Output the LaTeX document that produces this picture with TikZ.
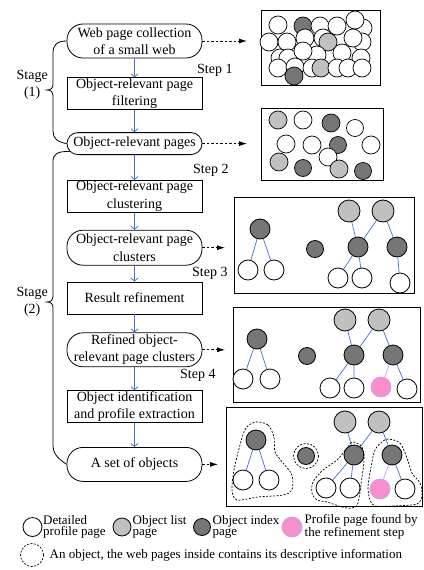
\documentclass[tikz,border=0pt]{standalone}
\usepackage{fontspec}
\setmainfont{Liberation Serif}
\definecolor{flowblue}{RGB}{68,114,196}
\definecolor{listgray}{RGB}{192,192,192}
\definecolor{indexgray}{RGB}{118,118,118}
\definecolor{foundpink}{RGB}{247,143,203}
\definecolor{foundline}{RGB}{200,160,240}
\usetikzlibrary{arrows.meta,positioning,calc}

\begin{document}
\begin{tikzpicture}[
  x=1pt, y=-1pt,
  font=\fontsize{14}{17.5}\selectfont,
  stepbox/.style={rectangle, draw, line width=0.8pt, minimum width=135pt, minimum height=32pt, align=center, inner xsep=1pt, inner ysep=0.5pt},
  data/.style={rectangle, draw, rounded corners=16pt, line width=0.8pt, minimum width=135pt, minimum height=34pt, align=center, inner xsep=1pt, inner ysep=0.5pt},
  flow/.style={-{Straight Barb[length=3pt,width=7pt]}, flowblue, line width=0.8pt},
  dasharrow/.style={-{Latex[length=8pt,width=5pt]}, dash pattern=on 2.5pt off 2pt, line width=0.8pt},
  scene/.style={rectangle, draw, line width=0.8pt, anchor=north west, inner sep=0pt},
  steplabel/.style={anchor=west, inner sep=0pt},
  stagelabel/.style={anchor=east, align=center, inner sep=0pt, font=\fontsize{14}{16.5}\selectfont},
  legend/.style={anchor=west, align=left, inner sep=0.5pt, font=\fontsize{13}{11.5}\selectfont},
  dw/.style={draw, fill=white, line width=0.7pt},
  dl/.style={draw, fill=listgray, line width=0.7pt},
  di/.style={draw, fill=indexgray, line width=0.7pt},
  det/.style={circle, draw, line width=0.8pt, fill=white, minimum size=20pt, inner sep=0pt},
  lst/.style={det, fill=listgray, minimum size=22pt},
  idx/.style={det, fill=indexgray},
  fnd/.style={det, draw=foundline, fill=foundpink},
  link/.style={flowblue, line width=0.7pt},
  plink/.style={foundline, line width=0.7pt},
  objline/.style={dash pattern=on 2pt off 1.5pt, line width=0.7pt},
]
\useasboundingbox (0,0) rectangle (423,570);

% Process column
\node[data] (webcol) at (134.5,41) {Web page collection\\of a small web};
\node[stepbox, below=19pt of webcol] (filter) {Object-relevant page\\filtering};
\node[data, minimum height=22pt, rounded corners=11pt, below=22pt of filter] (pages) {Object-relevant pages};
\node[stepbox, below=25pt of pages] (cluster) {Object-relevant page\\clustering};
\node[data, minimum height=35pt, below=17pt of cluster] (clusters) {Object-relevant page\\clusters};
\node[stepbox, below=16pt of clusters] (refine) {Result refinement};
\node[data, below=18pt of refine] (refined) {Refined object-\\relevant page clusters};
\node[stepbox, below=23pt of refined] (identify) {Object identification\\and profile extraction};
\node[data, below=24pt of identify] (objects) {A set of objects};

\draw[flow] (webcol) -- (filter);
\draw[flow] (filter) -- (pages);
\draw[flow] (pages) -- (cluster);
\draw[flow] (cluster) -- (clusters);
\draw[flow] (clusters) -- (refine);
\draw[flow] (refine) -- (refined);
\draw[flow] (refined) -- (identify);
\draw[flow] (identify) -- (objects);

% Step labels
\node[steplabel] (step1) at (197,70) {Step 1};
\node[steplabel] (step2) at (193,170) {Step 2};
\node[steplabel] (step3) at (192,273) {Step 3};
\node[steplabel] (step4) at (180,375) {Step 4};

% Stage braces
\draw[line width=0.8pt] (webcol.west) .. controls (57,41) and (53,45) .. (53,53) -- (53,84)
  .. controls (53,88) and (51,90) .. (47,90) .. controls (51,90) and (53,92) .. (53,96)
  -- (53,131) .. controls (53,138) and (57,142) .. (pages.west);
\node[stagelabel] (stage1) at (48,85) {Stage\\(1)};
\draw[line width=0.8pt] ($(pages.west)+(3,8)$) .. controls (58,151) and (53,154) .. (53,161) -- (53,296)
  .. controls (53,300) and (51,302) .. (47,302) .. controls (51,302) and (53,304) .. (53,308)
  -- (53,446) .. controls (53,453) and (57,458) .. (objects.west);
\node[stagelabel] (stage2) at (48,302) {Stage\\(2)};

% Result scenes
\node[scene, minimum width=119pt, minimum height=75pt] (scene1) at (261,10) {};
\node[scene, minimum width=122pt, minimum height=72pt] (scene2) at (261,108) {};
\node[scene, minimum width=180pt, minimum height=96pt] (scene3) at (234,197) {};
\node[scene, minimum width=187pt, minimum height=95pt] (scene4) at (233,307) {};
\node[scene, minimum width=196pt, minimum height=99pt] (scene5) at (226,407) {};

\draw[dasharrow, shorten >=14pt] (webcol.east) -- (webcol.east -| scene1.west);
\draw[dasharrow, shorten >=14pt] (pages.east) -- (pages.east -| scene2.west);
\draw[dasharrow, shorten >=9pt] (clusters.east) -- (clusters.east -| scene3.west);
\draw[dasharrow, shorten >=8pt] (refined.east) -- (refined.east -| scene4.west);
\draw[dasharrow, shorten >=8pt] (objects.east) -- (objects.east -| scene5.west);

% Scene 1: the whole small web
\draw[dw] (278,25) circle[radius=9];  \draw[di] (303,26) circle[radius=9];
\draw[dw] (320,26) circle[radius=9];  \draw[dw] (337,26) circle[radius=9];
\draw[dw] (363,28) circle[radius=9];  \draw[dw] (355,20) circle[radius=9];
\draw[dw] (305,38) circle[radius=9];  \draw[dw] (323,38) circle[radius=9];
\draw[dw] (269,42) circle[radius=9];  \draw[dw] (287,42) circle[radius=9];
\draw[dw] (362,42) circle[radius=9];  \draw[dw] (353,38) circle[radius=9];
\draw[dl] (328,42) circle[radius=9];
\draw[dw] (280,58) circle[radius=9];  \draw[dw] (317,55) circle[radius=9];
\draw[dw] (288,58) circle[radius=9];  \draw[dw] (303,51) circle[radius=9];
\draw[dw] (342,53) circle[radius=9];  \draw[dw] (361,58) circle[radius=9];
\draw[dw] (278,68) circle[radius=9];  \draw[dw] (295,67) circle[radius=9];
\draw[dw] (312,68) circle[radius=9];  \draw[dl] (321,68) circle[radius=9];
\draw[dw] (337,68) circle[radius=9];  \draw[dw] (348,68) circle[radius=9];
\draw[dw] (362,68) circle[radius=9];  \draw[di] (294,76) circle[radius=9];

% Scene 2: object-relevant pages
\draw[dl] (278,120) circle[radius=9];  \draw[dw] (303,120) circle[radius=9];
\draw[di] (331,123) circle[radius=9];  \draw[dw] (355,128) circle[radius=8.5];
\draw[dw] (286,144) circle[radius=9];  \draw[dw] (312,145) circle[radius=9];
\draw[di] (338,145) circle[radius=8.5]; \draw[dw] (371,145) circle[radius=9];
\draw[dw] (328,157) circle[radius=9];
\draw[dl] (279,162) circle[radius=9];  \draw[di] (303,168) circle[radius=8.5];
\draw[dl] (339,169) circle[radius=9];  \draw[di] (363,171) circle[radius=8.5];

% Scene 3: page clusters
\node[idx] (a3) at (260,229) {};
\node[det] (a3l) at (248,270) {};
\node[det] (a3r) at (274,270) {};
\draw[link] (a3) -- (a3l) (a3) -- (a3r);
\node[idx, minimum size=17pt] (b3) at (315,249) {};
\node[lst] (c3a) at (349,211) {};
\node[lst] (c3b) at (383,211) {};
\node[idx] (d3a) at (358,247) {};
\node[idx] (d3b) at (397,247) {};
\node[det] (e3a) at (338,278) {};
\node[det] (e3b) at (362,278) {};
\node[det] (e3c) at (400,283) {};
\draw[link] (c3a) -- (d3a) (c3b) -- (d3a) (c3b) -- (d3b);
\draw[link] (d3a) -- (e3a) (d3a) -- (e3b) (d3b) -- (e3c);

% Scene 4: refined clusters
\node[idx] (a4) at (257,339) {};
\node[det] (a4l) at (243,379) {};
\node[det] (a4r) at (270,379) {};
\draw[link] (a4) -- (a4l) (a4) -- (a4r);
\node[idx, minimum size=17pt] (b4) at (307,356) {};
\node[lst] (c4a) at (345,320) {};
\node[lst] (c4b) at (379,320) {};
\node[idx] (d4a) at (354,355) {};
\node[idx] (d4b) at (393,355) {};
\node[det] (e4a) at (330,388) {};
\node[det] (e4b) at (354,388) {};
\node[fnd] (e4c) at (381,387) {};
\node[det] (e4d) at (407,389) {};
\draw[link] (c4a) -- (d4a) (c4b) -- (d4a) (c4b) -- (d4b);
\draw[link] (d4a) -- (e4a) (d4a) -- (e4b) (d4b) -- (e4d);
\draw[plink] (d4b) -- (e4c);

% Scene 5: objects
\node[idx] (a5) at (256,440) {};
\node[det] (a5l) at (243,480) {};
\node[det] (a5r) at (269,480) {};
\draw[link] (a5) -- (a5l) (a5) -- (a5r);
\node[idx, minimum size=17pt] (b5) at (306,456) {};
\node[lst] (c5a) at (345,422) {};
\node[lst] (c5b) at (379,422) {};
\node[idx] (d5a) at (354,455) {};
\node[idx] (d5b) at (392,455) {};
\node[det] (e5a) at (326,488) {};
\node[det] (e5b) at (350,488) {};
\node[fnd] (e5c) at (380,489) {};
\node[det] (e5d) at (405,489) {};
\draw[link] (c5a) -- (d5a) (c5b) -- (d5a) (c5b) -- (d5b);
\draw[link] (d5a) -- (e5a) (d5a) -- (e5b) (d5b) -- (e5d);
\draw[plink] (d5b) -- (e5c);

% Object outlines
\draw[objline] plot[smooth cycle] coordinates {(256,422) (268,425) (274,437) (275,452) (283,463) (292,475) (292,490) (283,495) (258,497) (237,500) (232,490) (234,470) (240,445) (246,428)};
\draw[objline] (b5) circle[radius=12.5];
\draw[objline] plot[smooth cycle] coordinates {(353,442) (362,447) (364,460) (362,477) (358,503) (352,508) (342,507) (327,502) (317,500) (312,493) (313,482) (323,470) (337,460) (347,448)};
\draw[objline] plot[smooth cycle] coordinates {(388,439) (400,443) (407,458) (412,473) (420,483) (422,495) (417,504) (393,506) (375,506) (370,500) (368,487) (371,467) (375,450) (382,442)};

% Legend
\node[det, minimum size=19pt] (lgdet) at (32.5,527) {};
\node[legend] (lgdettxt) at (42.5,527) {Detailed\\profile page};
\node[lst, minimum size=18pt] (lglst) at (122,527) {};
\node[legend] (lglsttxt) at (132,527) {Object list\\page};
\node[idx, minimum size=17pt] (lgidx) at (202,527) {};
\node[legend] (lgidxtxt) at (212,527) {Object index\\page};
\node[fnd] (lgfnd) at (292,527) {};
\node[legend] (lgfndtxt) at (304,527) {Profile page found by\\the refinement step};
\node[circle, draw, objline, minimum size=23pt, inner sep=0pt] (lgobj) at (32,555) {};
\node[legend] (lgobjtxt) at (49,555) {An object, the web pages inside contains its descriptive information};

\end{tikzpicture}
\end{document}
